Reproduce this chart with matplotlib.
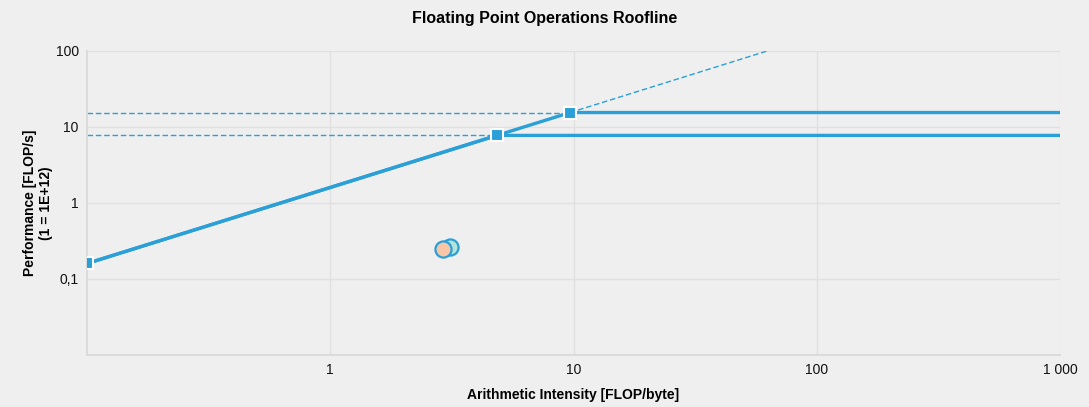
import numpy as np
import matplotlib
matplotlib.use("Agg")
import matplotlib.pyplot as plt
from matplotlib.ticker import FixedLocator, FixedFormatter, NullLocator

plt.rcParams['font.family'] = ['Liberation Sans', 'DejaVu Sans']

# roofline parameters (TFLOP/s and TB/s)
bandwidth = 1.6
peaks = [7.75, 15.5]
x_min, x_max = 0.1, 1000
y_min, y_max = 0.01, 100

# measured kernels
kernel_ai = [3.12, 2.90]
kernel_perf = [0.266, 0.248]
kernel_colors = ['#b4e3d9', '#f9c6a6']

x_ticks = [1, 10, 100, 1000]
x_labels = ['1', '10', '100', '1 000']
y_ticks = [0.1, 1, 10, 100]
y_labels = ['0,1', '1', '10', '100']

line_col = '#2a9fd8'
bg = '#efefef'
grid_col = '#e0e0e0'

fig = plt.figure(figsize=(10.89, 4.07), dpi=100, facecolor=bg)
ax = fig.add_axes([0.0799, 0.1278, 0.8935, 0.7469])
ax.set_facecolor(bg)
ax.set_xscale('log')
ax.set_yscale('log')
ax.set_xlim(x_min, x_max)
ax.set_ylim(y_min, y_max)

# dashed guides
for p in peaks:
    knee = p / bandwidth
    ax.plot([x_min, knee], [p, p], color=line_col, lw=1.0, ls=(0, (4, 2)), zorder=2)
top_knee = max(peaks) / bandwidth
ax.plot([top_knee, y_max / bandwidth], [max(peaks), y_max], color=line_col,
        lw=1.0, ls=(0, (4, 2)), zorder=2)

# rooflines
for p in peaks:
    knee = p / bandwidth
    ax.plot([x_min, knee, x_max], [bandwidth * x_min, p, p], color=line_col,
            lw=2.4, solid_capstyle='butt', zorder=3)
    ax.plot([knee], [p], marker='s', ms=8, color=line_col, mec='white', mew=1.5,
            zorder=4, clip_on=False)
start = ax.plot([x_min], [bandwidth * x_min], marker='s', ms=8, color=line_col,
                mec='white', mew=1.5, zorder=4)[0]
start.set_clip_path(ax.patch)

# kernels
for xi, yi, c in zip(kernel_ai, kernel_perf, kernel_colors):
    ax.scatter([xi], [yi], s=135, color=c, edgecolor=line_col, linewidth=1.6, zorder=5)

ax.xaxis.set_major_locator(FixedLocator(x_ticks))
ax.xaxis.set_major_formatter(FixedFormatter(x_labels))
ax.xaxis.set_minor_locator(NullLocator())
ax.yaxis.set_major_locator(FixedLocator(y_ticks))
ax.yaxis.set_major_formatter(FixedFormatter(y_labels))
ax.yaxis.set_minor_locator(NullLocator())
ax.tick_params(length=0, labelsize=10, colors='#111111', pad=6)
ax.grid(True, color=grid_col, lw=1)
ax.set_axisbelow(True)
for s in ['top', 'right']:
    ax.spines[s].set_visible(False)
for s in ['left', 'bottom']:
    ax.spines[s].set_color('#d8d8d8')
    ax.spines[s].set_linewidth(1.2)

ax.set_xlabel('Arithmetic Intensity [FLOP/byte]', fontsize=10, fontweight='bold', labelpad=8)
ax.set_ylabel('Performance [FLOP/s]\n(1 = 1E+12)', fontsize=10, fontweight='bold',
              labelpad=2, linespacing=1.15)
fig.text(0.5, 0.955, 'Floating Point Operations Roofline', ha='center', va='center',
         fontsize=11.5, fontweight='bold')

fig.savefig('out.png', dpi=100, facecolor=bg)
